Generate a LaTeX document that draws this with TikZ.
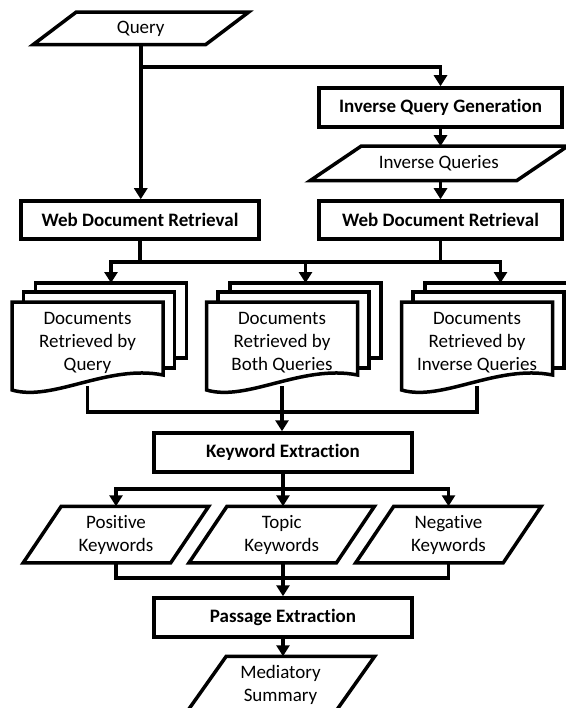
\documentclass[tikz,border=0pt]{standalone}
\usepackage{fontspec}
\setmainfont{Carlito}[Ligatures=NoCommon]
\usetikzlibrary{arrows.meta}
\newcommand{\docstack}[4]{
  \begin{scope}[shift={(#2,#3)}]
    \draw[page] (-52,-59) rectangle (99,16);
    \draw[page] (-64,-50) rectangle (87,26);
    \draw[page] (-75.5,-40) -- (75.5,-40) -- (75.5,33)
      .. controls (20,22) and (-35,60) .. (-75.5,48) -- cycle;
    \node[doctext] (#1) at (0,1) {#4};
    \coordinate (#1-top) at (23.5,-59);
  \end{scope}
}
\newcommand{\slanted}[2]{\draw[outline] ([xshift=#2/2]#1.north west) -- ([xshift=#2/2]#1.north east)
  -- ([xshift=-#2/2]#1.south east) -- ([xshift=-#2/2]#1.south west) -- cycle;}

\begin{document}
\begin{tikzpicture}[
      x=1pt,y=-1pt,
      line width=3.5pt,
      every node/.style={font=\fontsize{19}{23}\selectfont, align=center, inner sep=1pt},
      process/.style={rectangle,draw,fill=white,font=\fontsize{19}{23}\selectfont\bfseries,minimum height=39pt},
      data/.style={rectangle,minimum height=53pt,minimum width=144pt},
      doctext/.style={rectangle,minimum width=151pt,minimum height=82pt},
      page/.style={draw,fill=white,line join=miter},
      outline/.style={draw,line join=miter},
      arr/.style={-{Triangle[width=13pt,length=11pt]}}
      ]
      \useasboundingbox (0,0) rectangle (565,708);
      \node[data,minimum width=169pt,minimum height=29pt] (query) at (140.75,28.5) {Query};
      \slanted{query}{43pt}
      \node[process,minimum width=243pt] (iqg) at (440.5,107.5) {Inverse Query Generation};
      \node[data,minimum width=203pt,minimum height=31pt] (invq) at (438.75,163.5) {Inverse Queries};
      \slanted{invq}{51pt}
      \node[process,minimum width=238pt,minimum height=38pt] (wdr1) at (140,220) {Web Document Retrieval};
      \node[process,minimum width=243pt,minimum height=38pt] (wdr2) at (440.5,220) {Web Document Retrieval};
      \docstack{docq}{87.5}{342}{Documents\\Retrieved by\\Query}
      \docstack{docb}{282}{342}{Documents\\Retrieved by\\Both Queries}
      \docstack{docr}{477}{342}{Documents\\Retrieved by\\Inverse Queries}
      \node[process,minimum width=258pt] (ke) at (283,452.5) {Keyword Extraction};
      \node[data] (pos) at (116,534.5) {Positive\\Keywords};
      \slanted{pos}{38pt}
      \node[data] (topic) at (281.75,534.5) {Topic\\Keywords};
      \slanted{topic}{38pt}
      \node[data] (neg) at (448.5,534.5) {Negative\\Keywords};
      \slanted{neg}{38pt}
      \node[process,minimum width=258pt] (pe) at (283,617.5) {Passage Extraction};
      \node[data,minimum width=145pt] (med) at (280.5,684.5) {Mediatory\\Summary};
      \slanted{med}{40pt}

      \coordinate (qsplit) at (141,67);
      \coordinate (dsplit) at (0,262);
      \coordinate (ksplit) at (0,412);
      \coordinate (ssplit) at (283,489);
      \coordinate (psplit) at (0,578);

      \draw[arr] (query.south) -- (query.south |- wdr1.north);
      \draw[arr] (qsplit) -| (iqg.north);
      \draw[arr] (iqg.south) -- (iqg.south |- invq.north);
      \draw[arr] (wdr2.north |- invq.south) -- (wdr2.north);
      \draw[arr] (wdr1.south) |- (dsplit -| docq-top) -- (docq-top);
      \draw[arr] (wdr2.south) |- (dsplit -| docr-top) -- (docr-top);
      \draw (wdr1.south |- dsplit) -- (wdr2.south |- dsplit);
      \draw[arr] (dsplit -| docb-top) -- (docb-top);
      \draw (docq.south) |- (ksplit -| docr.south) -- (docr.south);
      \draw[arr] (docb.south) -- (docb.south |- ke.north);
      \draw[arr] (ke.south) -- (ke.south |- topic.north);
      \draw[arr] (ssplit) -| (pos.north);
      \draw[arr] (ssplit) -| (neg.north);
      \draw (pos.south) |- (psplit -| neg.south) -- (neg.south);
      \draw[arr] (topic.south -| pe.north) -- (pe.north);
      \draw[arr] (pe.south) -- (pe.south |- med.north);
    \end{tikzpicture}
\end{document}
